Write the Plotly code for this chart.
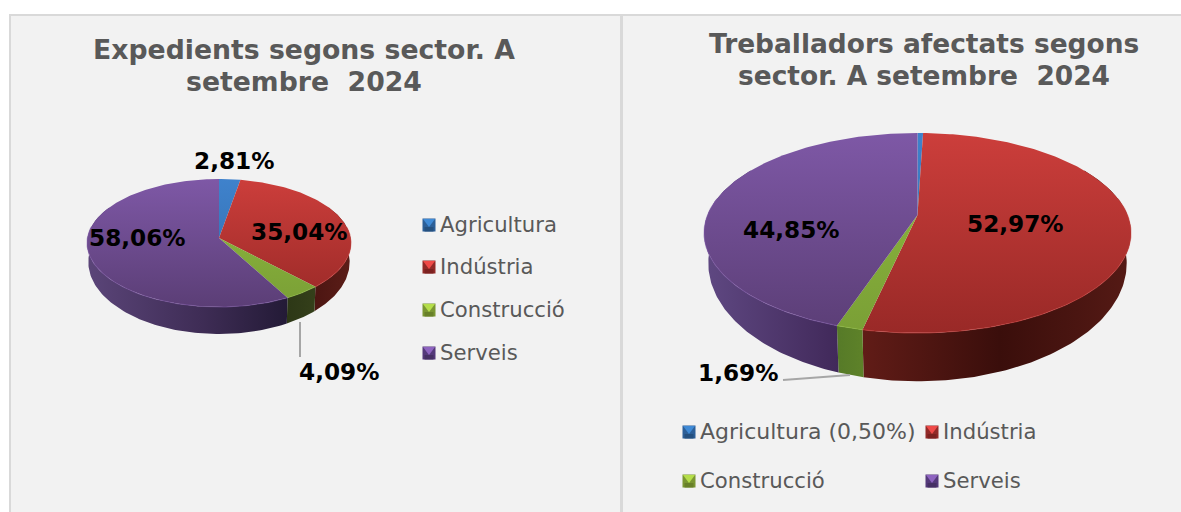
import numpy as np
import plotly.graph_objects as go

# ---- data ----
left_categories = ["Agricultura", "Indústria", "Construcció", "Serveis"]
left_values = [2.81, 35.04, 4.09, 58.06]
right_categories = ["Agricultura (0,50%)", "Indústria", "Construcció", "Serveis"]
right_values = [0.50, 52.97, 1.69, 44.85]
left_title = ["Expedients segons sector. A", "setembre  2024"]
right_title = ["Treballadors afectats segons", "sector. A setembre  2024"]

# ---- styles ----
TOP = [["#3f82cc", "#2f6aa8"], ["#cc3e3b", "#992927"], ["#8fbc3e", "#7a9f36"], ["#7e58a6", "#5b3e76"]]
# swatch faces: top (bright), sides, bottom (dark)
SWATCH = [("#3f8ad6", "#2c5f98", "#24507f"), ("#ef4a48", "#922a28", "#7c2120"),
          ("#b5de4a", "#7a9632", "#688029"), ("#8e64c0", "#54397a", "#463064")]
FONT = "DejaVu Sans"
W, H = 1181, 512


class Pie3D:
    """Perspective disc: unit circle -> picture, k = perspective strength."""
    def __init__(s, cx, ay, R, S, k, fx, fy, dy):
        s.cx, s.ay, s.R, s.S, s.k, s.fx, s.fy, s.dy = cx, ay, R, S, k, fx, fy, dy

    def top(s, th):
        u, v = np.sin(th), -np.cos(th)
        w = 1 - s.k * v
        return s.cx + s.R * u / w, s.ay + s.S * v / w

    def base(s, th):
        x, y = s.top(th)
        return s.cx + s.fx * (x - s.cx), s.ay + s.dy + s.fy * (y - s.ay)


def wall_scale(stops):
    x0, x1 = stops[0][0], stops[-1][0]
    return [[(x - x0) / (x1 - x0), c] for x, c in stops], x0, x1


def draw_pie(fig, pie, values, names, walls, yrange):
    total = sum(values)
    fr = np.cumsum([0] + list(values)) / total * 2 * np.pi
    lo, hi = np.radians(60), np.radians(300)
    rim_lo, rim_hi = np.radians(80), np.radians(280)
    # walls
    for i, name in enumerate(names):
        a, b = max(fr[i], lo), min(fr[i + 1], hi)
        if b <= a or walls[i] is None:
            continue
        th = np.linspace(a, b, 120)
        xt, yt = pie.top(th)
        xb, yb = pie.base(th)
        cs, x0, x1 = wall_scale(walls[i])
        fig.add_trace(go.Scatter(
            x=np.r_[xt, xb[::-1], xt[0]], y=np.r_[yt, yb[::-1], yt[0]], mode="lines",
            line=dict(width=0), fill="toself", name=name + " wall", hoverinfo="skip",
            fillgradient=dict(type="horizontal", colorscale=cs, start=x0, stop=x1)))
    # top surface
    for i, name in enumerate(names):
        th = np.linspace(fr[i], fr[i + 1], max(int((fr[i + 1] - fr[i]) * 60), 6))
        x, y = pie.top(th)
        fig.add_trace(go.Scatter(
            x=np.r_[pie.cx, x, pie.cx], y=np.r_[pie.ay, y, pie.ay], mode="lines",
            line=dict(width=0), fill="toself", name=name, hoverinfo="skip",
            fillgradient=dict(type="vertical", start=yrange[0], stop=yrange[1],
                              colorscale=[[0, TOP[i][0]], [1, TOP[i][1]]])))
    # light rim on the front edge
    for i, name in enumerate(names):
        a, b = max(fr[i], rim_lo), min(fr[i + 1], rim_hi)
        if b <= a:
            continue
        x, y = pie.top(np.linspace(a, b, 120))
        fig.add_trace(go.Scatter(x=x, y=y, mode="lines", hoverinfo="skip", name=name + " rim",
                                 line=dict(width=1.1, color=TOP[i][0]), opacity=0.55))


def label(text_value):
    return f"{text_value:.2f}".replace(".", ",") + "%"


def face(fig, xs, ys, color, name):
    fig.add_trace(go.Scatter(x=xs, y=ys, mode="lines", line=dict(width=0), fill="toself",
                             fillcolor=color, hoverinfo="skip", name=name))


def swatches(fig, xs, ys, names, sizes):
    half = 6.5
    for x, y, n, (bright, side, dark), size in zip(xs, ys, names, SWATCH, sizes):
        l, r, t, b = x - half, x + half, y - half, y + half
        face(fig, [l, r, r, l, l], [t, t, b, b, t], side, n + " swatch")
        face(fig, [l + 2, r - 2, r - 2, l + 2, l + 2], [y + 2, y + 2, b, b, y + 2], dark, n + " swatch")
        face(fig, [l + 0.5, r - 0.5, x, l + 0.5], [t + 0.5, t + 0.5, y + 2, t + 0.5], bright, n + " swatch")
        fig.add_annotation(x=x + 8.5, y=y - 1, text=n, showarrow=False, xanchor="left", yanchor="middle",
                           font=dict(family=FONT, size=size, color="#595959"))


fig = go.Figure()

left_pie = Pie3D(219, 238, 131.6, 63.6, 0.078, 0.99, 1.125, 18.4)
right_pie = Pie3D(917.5, 215, 210, 96.8, 0.18, 0.98, 1.18, 27)

left_walls = [None,
              [(310, "#4a1411"), (352, "#5c1e18")],
              [(285, "#2c3716"), (314, "#343f1a")],
              [(86, "#5b4579"), (200, "#3f2d56"), (288, "#231a36")]]
right_walls = [None,
               [(862, "#611c17"), (1000, "#3a0e0b"), (1130, "#551a15")],
               [(836, "#567a28"), (864, "#5e8229")],
               [(705, "#5f4882"), (838, "#41295a")]]

draw_pie(fig, left_pie, left_values, left_categories, left_walls, (179, 307))
draw_pie(fig, right_pie, right_values, right_categories, right_walls, (133, 333))

# leader lines
fig.add_trace(go.Scatter(x=[300, 300], y=[322, 357], mode="lines", hoverinfo="skip", name="leader",
                         line=dict(color="#a6a6a6", width=2)))
fig.add_trace(go.Scatter(x=[783, 850], y=[380, 375], mode="lines", hoverinfo="skip", name="leader",
                         line=dict(color="#a6a6a6", width=2)))

swatches(fig, [429, 429, 429, 429], [225, 267, 310, 353], left_categories, [21.2] * 4)
swatches(fig, [689, 932, 689, 932], [432, 432, 481, 481], right_categories, [22, 21.2, 21.2, 21.2])

# data labels
left_pos = [(234, 160), (299, 231), (339, 371), (137, 237)]
right_pos = [(1015, 223), (738, 372), (791, 229)]
for v, (x, y) in zip(left_values, left_pos):
    fig.add_annotation(x=x, y=y, text=f"<b>{label(v)}</b>", showarrow=False,
                       font=dict(family=FONT, size=23.2, color="#000000"))
for v, (x, y) in zip(right_values[1:], right_pos):
    fig.add_annotation(x=x, y=y, text=f"<b>{label(v)}</b>", showarrow=False,
                       font=dict(family=FONT, size=23.2, color="#000000"))

# titles
for lines, x, ys, size in [(left_title, 304, (49, 81), 26.7), (right_title, 924, (43, 75), 26.45)]:
    for t, y in zip(lines, ys):
        fig.add_annotation(x=x, y=y, text=f"<b>{t}</b>", showarrow=False, align="center",
                           font=dict(family=FONT, size=size, color="#595959"))

panel = "#f2f2f2"
border = "#d9d9d9"
fig.update_layout(
    width=W, height=H, autosize=False, margin=dict(l=0, r=0, t=0, b=0),
    paper_bgcolor="#ffffff", plot_bgcolor="#ffffff", showlegend=False,
    xaxis=dict(range=[0, W], visible=False, fixedrange=True),
    yaxis=dict(range=[H, 0], visible=False, fixedrange=True),
    shapes=[
        dict(type="rect", layer="below", x0=9, x1=W, y0=14, y1=H, fillcolor=border, line_width=0),
        dict(type="rect", layer="below", x0=11, x1=620, y0=16, y1=H, fillcolor=panel, line_width=0),
        dict(type="rect", layer="below", x0=623, x1=W, y0=16, y1=H, fillcolor=panel, line_width=0),
    ],
)

fig.write_html("out.html", config={"displayModeBar": False},
               post_script="document.body.style.margin='0';document.body.style.overflow='hidden';")
